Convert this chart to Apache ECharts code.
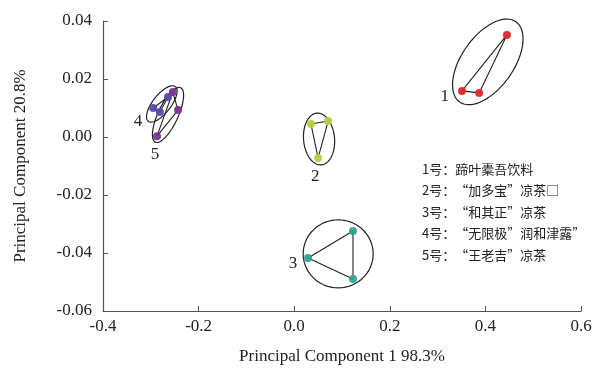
<!DOCTYPE html>
<html><head><meta charset="utf-8">
<script src="https://cdn.jsdelivr.net/npm/echarts@6/dist/echarts.min.js"></script>
<style>html,body{margin:0;padding:0;background:#fff}#c{width:596px;height:372px}</style>
</head><body><div id="c"></div>
<script>
// ---- data ----
const xTicks = [-0.4, -0.2, 0.0, 0.2, 0.4, 0.6];
const yTicks = [-0.06, -0.04, -0.02, 0.00, 0.02, 0.04];
const xName = 'Principal Component 1 98.3%';
const yName = 'Principal Component 20.8%';
const groupNames = ['1', '2', '3', '4', '5'];
const group1 = [[0.445, 0.0352], [0.351, 0.0159], [0.387, 0.0152]];
const group2 = [[0.035, 0.0045], [0.071, 0.0055], [0.050, -0.0072]];
const group3 = [[0.029, -0.0417], [0.123, -0.0324], [0.123, -0.0490]];
const group4 = [[-0.295, 0.0100], [-0.264, 0.0138], [-0.281, 0.0086]];
const group5 = [[-0.254, 0.0155], [-0.243, 0.0093], [-0.287, 0.0003]];
const ellipseCenters = [[0.405, 0.0259], [0.052, -0.0007], [0.092, -0.0403], [-0.277, 0.0114], [-0.264, 0.0076]];
const labelAnchors = [[0.315, 0.0138], [0.044, -0.0138], [-0.0025, -0.0438], [-0.327, 0.0055], [-0.291, -0.0062]];
const legendLines = ['1号：蹄叶橐吾饮料', '2号：“加多宝”凉茶□', '3号：“和其正”凉茶', '4号：“无限极”润和津露”', '5号：“王老吉”凉茶'];

// ---- styles ----
const groups = [group1, group2, group3, group4, group5];
const colors = ['#e3262b', '#b7cd3e', '#2fa38e', '#5a4aa8', '#7a3495'];
// ellipse shape in pixels: [semi-major, semi-minor, rotation deg (screen, ccw)]
const ellipseShapes = [[49, 26, 55], [26, 15.5, 95], [35, 34, 0], [22, 9, 52], [30, 10, 65]];

const chart = echarts.init(document.getElementById('c'), null, {renderer: 'canvas'});
const serif = '"Liberation Serif", "Times New Roman", serif';

const series = [];
groups.forEach((g, i) => {
  series.push({
    type: 'line', data: g.concat([g[0]]), symbol: 'none', silent: true,
    lineStyle: {color: '#222', width: 1.1}, z: 2
  });
});
series.push({
  type: 'custom', z: 3, silent: true,
  data: ellipseCenters.map((c, i) => [c[0], c[1], i]),
  renderItem: function (params, api) {
    const i = api.value(2);
    const c = api.coord([api.value(0), api.value(1)]);
    const s = ellipseShapes[i];
    const a = s[2] * Math.PI / 180;
    const pts = [];
    for (let k = 0; k < 72; k++) {
      const t = k / 72 * Math.PI * 2;
      const ex = s[0] * Math.cos(t), ey = s[1] * Math.sin(t);
      pts.push([c[0] + ex * Math.cos(a) + ey * Math.sin(a), c[1] - ex * Math.sin(a) + ey * Math.cos(a)]);
    }
    return {type: 'polygon', shape: {points: pts}, style: {fill: 'none', stroke: '#222', lineWidth: 1.2}};
  }
});
groups.forEach((g, i) => {
  series.push({
    type: 'scatter', data: g, symbolSize: 8, z: 4,
    itemStyle: {color: colors[i], opacity: 0.95}
  });
});
series.push({
  type: 'custom', z: 5, silent: true,
  data: labelAnchors.map((c, i) => [c[0], c[1], i]),
  renderItem: function (params, api) {
    const c = api.coord([api.value(0), api.value(1)]);
    return {type: 'text', x: c[0], y: c[1], style: {text: groupNames[api.value(2)], font: '17px ' + serif, fill: '#222', align: 'center', verticalAlign: 'middle'}};
  }
});

chart.setOption({
  animation: false,
  backgroundColor: '#fff',
  grid: {left: 103, right: 15, top: 21, bottom: 61, containLabel: false},
  xAxis: {
    type: 'value', min: -0.4, max: 0.6, interval: 0.2,
    name: xName, nameLocation: 'middle', nameGap: 37,
    nameTextStyle: {fontFamily: serif, fontSize: 17, color: '#222'},
    axisLine: {onZero: false, lineStyle: {color: '#555', width: 1.2}},
    axisTick: {inside: true, length: 5, lineStyle: {color: '#555'}},
    axisLabel: {fontFamily: serif, fontSize: 17, color: '#222', margin: 7,
      formatter: v => { const m = xTicks.find(t => Math.abs(t - v) < 1e-9); return (m !== undefined ? m : v).toFixed(1); }},
    splitLine: {show: false}
  },
  yAxis: {
    type: 'value', min: -0.06, max: 0.04, interval: 0.02,
    name: yName, nameLocation: 'middle', nameGap: 74, nameRotate: 90,
    nameTextStyle: {fontFamily: serif, fontSize: 17, color: '#222'},
    axisLine: {onZero: false, lineStyle: {color: '#555', width: 1.2}},
    axisTick: {inside: true, length: 5, lineStyle: {color: '#555'}},
    axisLabel: {fontFamily: serif, fontSize: 17, color: '#222', margin: 11,
      formatter: v => { const m = yTicks.find(t => Math.abs(t - v) < 1e-9); return (Math.abs(v) < 1e-9 ? 0 : (m !== undefined ? m : v)).toFixed(2); }},
    splitLine: {show: false}
  },
  graphic: [{
    type: 'text', left: 422, top: 158,
    style: {text: legendLines.join('\n'), font: '13px "Noto Sans CJK SC", sans-serif', lineHeight: 21.5, fill: '#222'}
  }],
  series: series
});
</script></body></html>
